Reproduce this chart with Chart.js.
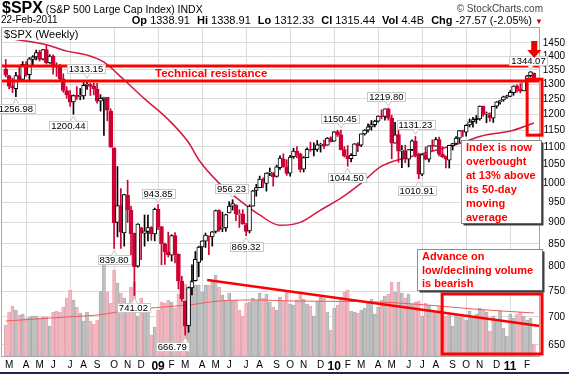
<!DOCTYPE html>
<html>
<head>
<meta charset="utf-8">
<script src="https://cdn.jsdelivr.net/npm/chart.js@4.4.0/dist/chart.umd.min.js"></script>
<style>
body { margin: 0; background: #fff; font-family: Arial, "Liberation Sans", sans-serif; }
#wrap { position: relative; width: 569px; height: 374px; overflow: hidden; }
#c { position: absolute; left: 0; top: 0; }
.hd { position: absolute; white-space: nowrap; color: #000; }
.q span { margin-left: 4px; }
</style>
</head>
<body>
<div id="wrap">
  <canvas id="c" width="569" height="374"></canvas>
  <div class="hd" style="left:2px;top:0px;font-size:10.5px;line-height:16px"><b style="font-size:16px">$SPX</b> (S&amp;P 500 Large Cap Index) INDX</div>
  <div class="hd" style="right:26px;top:3px;font-size:10px;color:#444">© StockCharts.com</div>
  <div class="hd" style="left:1px;top:14px;font-size:10px">22-Feb-2011</div>
  <div class="hd q" style="right:37px;top:14px;font-size:11px"><b>Op</b> 1338.91 <span><b>Hi</b> 1338.91</span> <span><b>Lo</b> 1312.33</span> <span><b>Cl</b> 1315.44</span> <span><b>Vol</b> 4.4B</span> <span><b>Chg</b> -27.57 (-2.05%)</span></div>
  <div class="hd" style="left:535px;top:17px;font-size:8px;color:#c00">▼</div>
  <div style="position:absolute;left:0;top:372px;width:569px;height:2px;background:#24244f"></div>
</div>
<script>
// weekly bars, week 0 = 25-Feb-2008 ... week 156 = 21-Feb-2011
const priceTicks = [650, 700, 750, 800, 850, 900, 950, 1000, 1050, 1100, 1150, 1200, 1250, 1300, 1350, 1400, 1450];
const monthTickWeeks = [1,6,10,14,19,23,27,32,36,40, 45,49,53,58,62,66,71,75,80,84,88,93, 97,101,105,110,114,119,123,127,132,136,140,145, 149,154];
const monthTickLabels = ['M','A','M','J','J','A','S','O','N','D', '09','F','M','A','M','J','J','A','S','O','N','D', '10','F','M','A','M','J','J','A','S','O','N','D', '11','F'];
const quarterWeeks = [6, 19, 32, 45, 58, 71, 84, 97, 110, 123, 136, 149];

const opens = [
  1353,1330,1293,1284,1330,1316,1370,1333,1388,1397,
  1415,1389,1425,1375,1400,1361,1360,1318,1278,1263,
  1240,1261,1258,1260,1296,1298,1292,1283,1242,1251,
  1255,1210,1097,900,941,875,968,930,874,801,
  888,874,879,888,873,932,890,850,832,825,
  869,827,770,730,684,756,771,809,843,856,
  868,866,879,929,886,887,923,940,943,919,
  920,894,880,940,980,987,1009,998,1026,1025,
  1017,1041,1066,1043,1026,1072,1088,1080,1037,1069,
  1094,1092,1093,1105,1107,1105,1127,1117,1146,1136,
  1092,1074,1066,1075,1110,1105,1139,1150,1160,1167,
  1178,1195,1193,1217,1188,1111,1137,1088,1087,1065,
  1092,1117,1077,1023,1078,1065,1103,1102,1122,1079,
  1072,1062,1104,1110,1126,1149,1144,1166,1176,1184,
  1185,1226,1200,1198,1187,1226,1241,1246,1257,1258,
  1271,1294,1283,1277,1312,1329,1339
];
const highs = [
  1388,1331,1321,1341,1359,1380,1380,1395,1402,1423,
  1422,1426,1440,1406,1405,1376,1370,1336,1291,1278,
  1263,1291,1285,1305,1313,1303,1304,1303,1264,1256,
  1255,1217,1097,1044,985,970,1007,940,875,897,
  888,918,918,890,935,944,890,852,877,871,
  876,828,780,730,758,804,833,845,857,875,
  868,879,930,931,925,920,951,956,943,931,
  931,898,943,980,996,1018,1013,1027,1040,1028,
  1048,1074,1080,1063,1076,1096,1101,1082,1072,1097,
  1114,1112,1119,1111,1120,1128,1130,1146,1150,1150,
  1101,1104,1081,1110,1113,1139,1152,1170,1180,1181,
  1195,1214,1217,1220,1197,1174,1149,1104,1105,1092,
  1121,1131,1082,1079,1100,1103,1121,1128,1129,1101,
  1074,1105,1111,1131,1149,1150,1167,1185,1190,1196,
  1227,1226,1207,1204,1226,1241,1246,1259,1262,1278,
  1294,1297,1302,1311,1331,1344,1339
];
const lows = [
  1325,1283,1271,1257,1312,1312,1328,1312,1364,1386,
  1382,1386,1371,1373,1335,1327,1315,1272,1252,1225,
  1200,1248,1247,1249,1282,1261,1263,1236,1210,1134,
  1179,1099,840,866,840,845,900,818,741,799,
  815,845,857,858,857,883,804,805,821,812,
  808,754,730,667,672,742,770,779,814,842,
  826,845,875,879,878,879,923,930,904,888,
  896,869,875,940,965,987,987,978,1019,991,
  1015,1036,1042,1020,1018,1067,1068,1029,1029,1069,
  1087,1074,1087,1085,1095,1105,1115,1116,1131,1091,
  1071,1045,1057,1075,1086,1101,1135,1144,1150,1160,
  1175,1185,1181,1181,1066,1111,1056,1041,1055,1043,
  1089,1071,1011,1019,1063,1057,1089,1102,1074,1069,
  1040,1040,1091,1107,1113,1131,1132,1160,1159,1171,
  1181,1194,1173,1177,1174,1219,1232,1242,1252,1257,
  1262,1272,1270,1277,1305,1325,1312
];
const closes = [
  1331,1293,1288,1330,1315,1370,1333,1390,1398,1414,
  1388,1425,1376,1400,1361,1360,1318,1278,1263,1239,
  1261,1258,1260,1296,1298,1292,1283,1242,1252,1255,
  1213,1099,899,941,877,969,931,873,800,896,
  876,880,888,873,932,890,850,832,826,869,
  827,770,735,683,757,769,816,843,857,870,
  866,878,929,883,887,919,940,946,921,919,
  896,879,940,979,987,1010,1004,1026,1029,1016,
  1043,1068,1044,1025,1071,1088,1080,1036,1069,1093,
  1091,1091,1106,1106,1102,1126,1115,1145,1136,1092,
  1074,1066,1076,1109,1104,1139,1150,1160,1167,1178,
  1194,1192,1217,1187,1111,1136,1088,1089,1065,1092,
  1118,1077,1023,1078,1065,1103,1102,1122,1079,1072,
  1065,1105,1110,1126,1149,1146,1165,1176,1183,1183,
  1226,1199,1200,1189,1225,1240,1244,1257,1258,1272,
  1293,1283,1276,1311,1329,1343,1315
];
// weekly volume (billions of shares, approx.)
const volume = [
  31,44,50,46,41,42,38,39,40,40, 38,39,39,30,44,45,44,49,58,66,
  56,49,43,35,44,35,32,36,65,91, 64,53,86,73,63,58,52,69,74,40,
  58,53,50,21,29,46,54,53,56,54, 48,62,73,72,63,76,71,71,64,71,
  71,76,81,69,61,56,63,56,56,46, 40,53,54,58,56,63,58,62,54,49,
  46,59,55,64,52,51,56,63,57,52, 50,40,55,59,58,44,26,48,51,59,
  64,66,45,44,43,46,48,53,57,42, 49,56,60,62,74,64,74,63,58,62,
  52,54,55,40,53,51,46,44,50,44, 40,41,30,41,39,40,36,45,40,42,
  48,46,44,25,40,37,45,28,20,42, 38,42,44,40,36,38,12
];
// 50-week moving average, read at a few weeks
const maWeeks  = [2, 12, 18, 24, 29, 35, 41, 48, 54, 57, 63, 69, 75, 81, 87, 93, 99, 105, 111, 123, 135, 140, 150, 156];
const maValues = [1465, 1443, 1419, 1404, 1378, 1314, 1250, 1183, 1113, 1063, 999, 955, 918, 893, 900, 930, 960, 999, 1045, 1080, 1113, 1131, 1150, 1172];
// volume moving average, read at a few weeks
const volMaWeeks  = [0, 18, 27, 33, 43, 54, 63, 74, 85, 110, 128, 138, 156];
const volMaValues = [35, 39, 41, 44, 48, 51, 55, 56, 55, 54, 50, 47, 43];

const resistanceLevels = [1364, 1311];
const volTrendWeeks = [59.5, 157.8];
const volTrendValues = [76, 30];

const callouts = [
  [3, 1256.98, 'below', 0], [20, 1200.44, 'below', -5], [24, 1313.15, 'above', -1],
  [32, 839.80, 'below', 0], [45, 943.85, 'above', 0], [38, 741.02, 'below', -1],
  [53, 666.79, 'below', -13], [67, 956.23, 'above', -1], [71, 869.32, 'below', 0],
  [99, 1150.45, 'above', -1], [101, 1044.50, 'below', -1], [113, 1219.80, 'above', -2],
  [121, 1131.23, 'above', 0], [122, 1010.91, 'below', -2], [155, 1344.07, 'above', -2]
];

const RED = '#cc0033';
const xMin = -1.4, xMax = 157.8;

const bodies = [], wicks = [], bodyFill = [], bodyLine = [], wickColor = [], vols = [], volFill = [], volLine = [];
closes.forEach((c, i) => {
  const prev = i > 0 ? closes[i - 1] : opens[0];
  const down = c < prev;
  const col = down ? RED : '#000';
  bodies.push({ x: i, y: [opens[i], c] });
  wicks.push({ x: i, y: [lows[i], highs[i]] });
  bodyLine.push(col);
  bodyFill.push(c >= opens[i] ? '#fff' : col);
  wickColor.push(col);
  vols.push({ x: i, y: volume[i] });
  volFill.push(down ? 'rgb(240,183,192)' : 'rgb(192,192,192)');
  volLine.push(down ? 'rgb(226,150,164)' : 'rgb(160,160,160)');
});

const notes = {
  id: 'notes',
  afterDraw(chart) {
    const { ctx, chartArea: a } = chart;
    const x = chart.scales.x, y = chart.scales.y, v = chart.scales.v;
    ctx.save();
    ctx.strokeStyle = '#a8a8a8';
    ctx.lineWidth = 1;
    ctx.strokeRect(a.left + 0.5, a.top + 0.5, a.right - a.left - 1, a.bottom - a.top);

    // chart title inside plot
    ctx.font = '11px Arial, "Liberation Sans", sans-serif';
    ctx.textBaseline = 'top';
    ctx.textAlign = 'left';
    ctx.fillStyle = '#fff';
    ctx.fillRect(a.left + 1, a.top + 1, ctx.measureText('$SPX (Weekly)').width + 4, 12);
    ctx.fillStyle = '#000';
    ctx.fillText('$SPX (Weekly)', a.left + 3, a.top + 2);

    // value callouts
    ctx.font = '9.5px Arial, "Liberation Sans", sans-serif';
    ctx.textAlign = 'center';
    ctx.textBaseline = 'middle';
    callouts.forEach(([w, val, side, dx]) => {
      const px = x.getPixelForValue(w);
      const py = y.getPixelForValue(val);
      const txt = val.toFixed(2);
      const tw = ctx.measureText(txt).width + 4;
      const cx = px + dx;
      const top = side === 'below' ? py + 7 : py - 16;
      ctx.fillStyle = '#fff';
      ctx.strokeStyle = '#c8c8c8';
      ctx.fillRect(Math.round(cx - tw / 2) + 0.5, Math.round(top) + 0.5, Math.round(tw), 9);
      ctx.strokeRect(Math.round(cx - tw / 2) + 0.5, Math.round(top) + 0.5, Math.round(tw), 9);
      const edge = side === 'below' ? Math.round(top) + 0.5 : Math.round(top) + 9.5;
      const tip = side === 'below' ? py + 2 : py - 2;
      ctx.beginPath();
      ctx.moveTo(px - 3, edge);
      ctx.lineTo(px, tip);
      ctx.lineTo(px + 3, edge);
      ctx.fill();
      ctx.stroke();
      ctx.fillStyle = '#000';
      ctx.fillText(txt, cx, Math.round(top) + 5.5);
    });

    // resistance label
    ctx.fillStyle = '#ff0000';
    ctx.textAlign = 'left';
    ctx.font = 'bold 11.5px Arial, "Liberation Sans", sans-serif';
    ctx.fillText('Technical resistance', x.getPixelForValue(44.1), y.getPixelForValue(1337));

    // red boxes
    ctx.strokeStyle = '#ff0000';
    ctx.lineWidth = 3;
    const box = (w0, w1, y0, y1) => ctx.strokeRect(x.getPixelForValue(w0), y0, x.getPixelForValue(w1) - x.getPixelForValue(w0), y1 - y0);
    box(154.0, 158.4, y.getPixelForValue(1317), y.getPixelForValue(1135));
    box(128.9, 158.4, v.getPixelForValue(62), v.getPixelForValue(2));

    // arrow
    const ax = x.getPixelForValue(156.1), ay = y.getPixelForValue(1393);
    ctx.fillStyle = '#ee0000';
    ctx.beginPath();
    ctx.moveTo(ax - 3, ay - 17); ctx.lineTo(ax + 3, ay - 17); ctx.lineTo(ax + 3, ay - 8);
    ctx.lineTo(ax + 7, ay - 8); ctx.lineTo(ax, ay); ctx.lineTo(ax - 7, ay - 8); ctx.lineTo(ax - 3, ay - 8);
    ctx.closePath();
    ctx.fill();

    // comment boxes
    const comment = (w0, w1, p0, p1, lines, lh) => {
      const l = Math.round(x.getPixelForValue(w0)) + 0.5, r = Math.round(x.getPixelForValue(w1)) + 0.5;
      const t = Math.round(y.getPixelForValue(p0)) + 0.5, b = Math.round(y.getPixelForValue(p1)) + 0.5;
      ctx.fillStyle = '#fff';
      ctx.fillRect(l, t, r - l, b - t);
      ctx.lineWidth = 1;
      ctx.strokeStyle = '#8c8c8c';
      ctx.strokeRect(l, t, r - l, b - t);
      ctx.strokeStyle = '#3c3c3c';
      ctx.lineWidth = 2;
      ctx.beginPath();
      ctx.moveTo(r + 1, t + 2); ctx.lineTo(r + 1, b + 1); ctx.lineTo(l + 2, b + 1);
      ctx.stroke();
      ctx.fillStyle = '#ff0000';
      ctx.font = 'bold 11px Arial, "Liberation Sans", sans-serif';
      ctx.textBaseline = 'middle';
      lines.forEach((s, k) => ctx.fillText(s, l + 4.5, t + 7.5 + k * lh));
    };
    comment(134.5, 158.1, 1120, 899, ['Index is now', 'overbought', 'at 13% above', 'its 50-day', 'moving', 'average'], 14);
    comment(121.5, 158.4, 839, 752, ['Advance on', 'low/declining volume', 'is bearish'], 13.5);
    ctx.restore();
  }
};

Chart.defaults.font.family = 'Arial, "Liberation Sans", sans-serif';

new Chart(document.getElementById('c'), {
  type: 'bar',
  data: {
    datasets: [
      { type: 'line', data: [{ x: xMin, y: resistanceLevels[0] }, { x: xMax, y: resistanceLevels[0] }], borderColor: '#ff0000', borderWidth: 3, pointRadius: 0, yAxisID: 'y', order: 1 },
      { type: 'line', data: [{ x: xMin, y: resistanceLevels[1] }, { x: xMax, y: resistanceLevels[1] }], borderColor: '#ff0000', borderWidth: 3, pointRadius: 0, yAxisID: 'y', order: 1 },
      { type: 'line', data: volTrendWeeks.map((w, i) => ({ x: w, y: volTrendValues[i] })), borderColor: '#ff0000', borderWidth: 2.5, pointRadius: 0, yAxisID: 'v', order: 1 },
      { data: bodies, backgroundColor: bodyFill, borderColor: bodyLine, borderWidth: 1, borderSkipped: false, barThickness: 4, minBarLength: 1, grouped: false, yAxisID: 'y', order: 3 },
      { data: wicks, backgroundColor: wickColor, barThickness: 1, grouped: false, yAxisID: 'y', order: 4 },
      { type: 'line', data: maWeeks.map((w, i) => ({ x: w, y: maValues[i] })), borderColor: '#d2193f', borderWidth: 1.5, pointRadius: 0, cubicInterpolationMode: 'monotone', yAxisID: 'y', order: 5 },
      { type: 'line', data: volMaWeeks.map((w, i) => ({ x: w, y: volMaValues[i] })), borderColor: '#f05a5a', borderWidth: 1, pointRadius: 0, cubicInterpolationMode: 'monotone', yAxisID: 'v', order: 6 },
      { data: vols, backgroundColor: volFill, borderColor: volLine, borderWidth: 0.6, borderSkipped: false, barThickness: 3, grouped: false, yAxisID: 'v', order: 7 }
    ]
  },
  options: {
    responsive: false,
    animation: false,
    devicePixelRatio: 1,
    layout: { padding: { top: 27, left: 1, right: 4, bottom: 0 } },
    plugins: { legend: { display: false }, tooltip: { enabled: false } },
    scales: {
      x: {
        type: 'linear', min: xMin, max: xMax, offset: false,
        afterFit: s => { s.height = 18; },
        afterBuildTicks: s => { s.ticks = monthTickWeeks.map(value => ({ value })); },
        grid: { offset: false, drawTicks: false, color: c => (c.tick && quarterWeeks.includes(c.tick.value)) ? '#dcdcdc' : 'rgba(0,0,0,0)' },
        border: { display: false },
        ticks: {
          autoSkip: false, maxRotation: 0, padding: 3, color: '#000',
          callback: (val, i) => monthTickLabels[i],
          font: c => /\d/.test(monthTickLabels[c.index] || '') ? { size: 12, weight: 'bold' } : { size: 10 }
        }
      },
      y: {
        type: 'logarithmic', position: 'right', min: 631, max: 1513,
        afterFit: s => { s.width = 25; },
        afterBuildTicks: s => { s.ticks = priceTicks.map(value => ({ value })); },
        grid: { color: '#dcdcdc', drawTicks: false },
        border: { display: false },
        ticks: { color: '#000', font: { size: 10 }, padding: 3, crossAlign: 'far', callback: val => String(val) }
      },
      v: { type: 'linear', display: false, min: 0, max: 329 }
    }
  },
  plugins: [notes]
});
</script>
</body>
</html>
